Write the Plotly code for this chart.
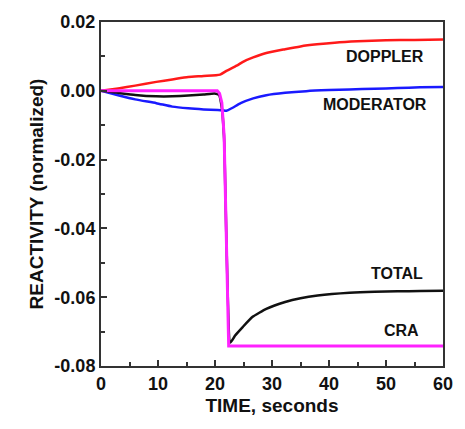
import plotly.graph_objects as go

# Time (s) and reactivity values
t_doppler = [0, 3, 6, 9.7, 12.5, 15.3, 18, 20.9, 22, 23.8, 25, 26.7, 29, 32.3, 35, 37.9, 41, 45, 50, 55, 60]
doppler = [0, 0.0007, 0.0015, 0.0026, 0.0033, 0.004, 0.0043, 0.0047, 0.0058, 0.0073, 0.0085, 0.0097, 0.0110, 0.0121, 0.0129, 0.0135, 0.0140, 0.0144, 0.0147, 0.0148, 0.0149]

t_moderator = [0, 3, 6, 9.7, 12.5, 15.3, 18, 20.5, 22, 23, 24.5, 26.7, 29, 32.3, 36, 40, 43.6, 48, 52, 56, 60]
moderator = [0, -0.0013, -0.0025, -0.0036, -0.0046, -0.0051, -0.0054, -0.0056, -0.0058, -0.0050, -0.0036, -0.0022, -0.0013, -0.0006, -0.0001, 0.0002, 0.0004, 0.0006, 0.0008, 0.0010, 0.0011]

t_total = [0, 3, 6, 9.7, 12.5, 15.3, 18, 19.9, 20.7, 21.2, 21.6, 22.7, 23.5, 24.9, 26.6, 29, 32.3, 35, 38, 43.6, 48, 52, 56, 60]
total = [0, -0.0006, -0.0012, -0.0016, -0.0016, -0.0014, -0.0011, -0.0008, -0.0012, -0.0050, -0.014, -0.0732, -0.0712, -0.0686, -0.0657, -0.0634, -0.0614, -0.0603, -0.0595, -0.0587, -0.0584, -0.0583, -0.0582, -0.0581]

t_cra = [0, 10, 20.4, 20.8, 21.2, 21.6, 22.4, 30, 40, 50, 60]
cra = [0, 0, 0, -0.0008, -0.0035, -0.013, -0.0742, -0.0742, -0.0742, -0.0742, -0.0742]

tick_x = [0, 10, 20, 30, 40, 50, 60]
tick_y = [0.02, 0.00, -0.02, -0.04, -0.06, -0.08]
tick_y_text = ["0.02", "0.00", "-0.02", "-0.04", "-0.06", "-0.08"]

labels = ["DOPPLER", "MODERATOR", "TOTAL", "CRA"]
label_x = [49.8, 48.1, 52.0, 52.7]
label_y = [0.0099, -0.0039, -0.0530, -0.0697]

FONT = "Liberation Sans, Arial, sans-serif"

fig = go.Figure()
fig.add_trace(go.Scatter(x=t_doppler, y=doppler, mode="lines", line=dict(color="#ff1a1a", width=2.5, shape="spline", smoothing=0.6)))
fig.add_trace(go.Scatter(x=t_moderator, y=moderator, mode="lines", line=dict(color="#1a1aff", width=2.5, shape="spline", smoothing=0.6)))
fig.add_trace(go.Scatter(x=t_total, y=total, mode="lines", line=dict(color="#111111", width=2.5, shape="spline", smoothing=0.4)))
fig.add_trace(go.Scatter(x=t_cra, y=cra, mode="lines", line=dict(color="#ff22ff", width=3)))

for txt, x, y in zip(labels, label_x, label_y):
    fig.add_annotation(x=x, y=y, text=txt, showarrow=False,
                       font=dict(family=FONT, size=16, color="#111111", weight="bold"))

axis_common = dict(showgrid=False, zeroline=False, showline=True, linecolor="#333333", linewidth=2,
                   mirror=True, ticks="inside", ticklen=6, tickwidth=1.5, tickcolor="#333333",
                   tickfont=dict(family=FONT, size=18, color="#111111", weight="bold"))

fig.update_xaxes(range=[0, 60], tickvals=tick_x, minor=dict(dtick=5, ticks="inside", ticklen=4, tickcolor="#333333", tickwidth=1.5),
                 title=dict(text="TIME, seconds", font=dict(family=FONT, size=19, color="#111111", weight="bold"), standoff=6),
                 **axis_common)
fig.update_yaxes(range=[-0.08, 0.02], tickvals=tick_y, ticktext=tick_y_text,
                 minor=dict(dtick=0.01, ticks="inside", ticklen=4, tickcolor="#333333", tickwidth=1.5),
                 title=dict(text="REACTIVITY (normalized)", font=dict(family=FONT, size=19, color="#111111", weight="bold"), standoff=6),
                 **axis_common)

fig.update_layout(width=465, height=429, margin=dict(l=101, r=12, t=13, b=63),
                  paper_bgcolor="white", plot_bgcolor="white", showlegend=False)

fig.write_html("out.html")
